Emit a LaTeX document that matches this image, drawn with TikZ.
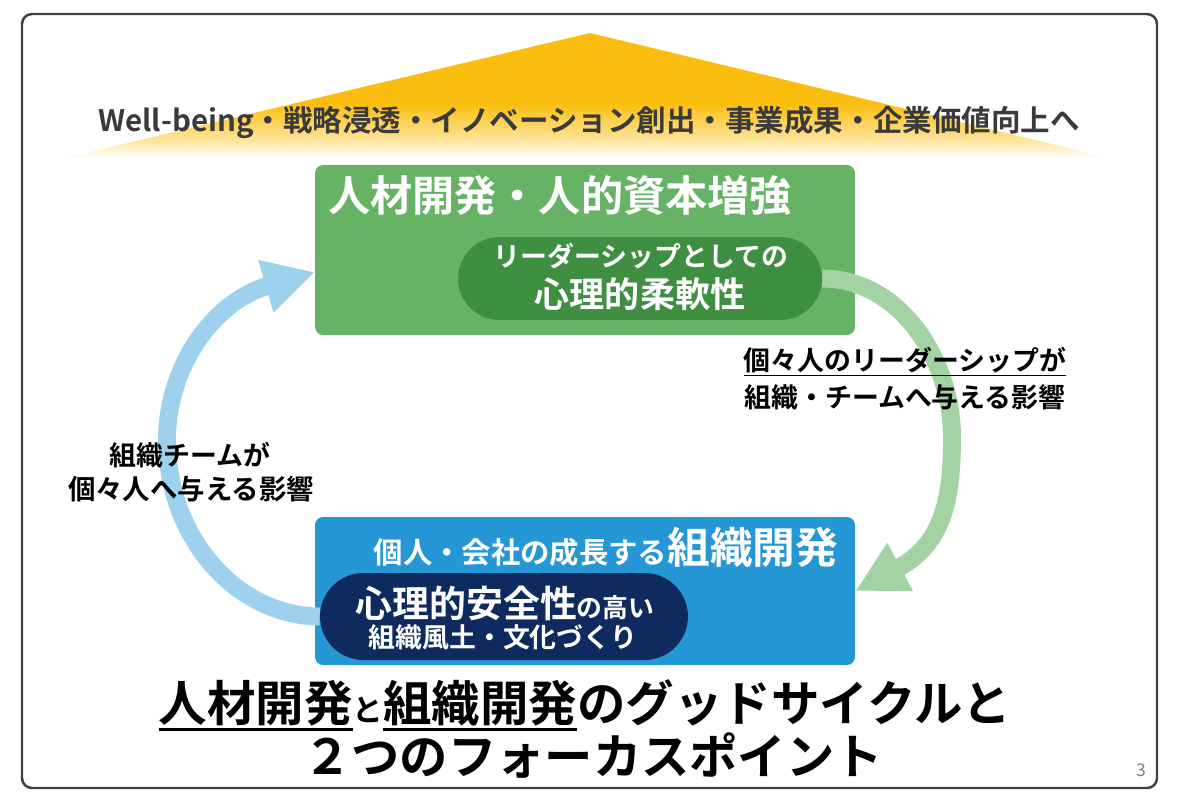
\documentclass[tikz,border=0pt]{standalone}
\usepackage{fontspec}
\setmainfont{Noto Sans CJK JP}[BoldFont={Noto Sans CJK JP Bold}]
\usetikzlibrary{arrows.meta}

\definecolor{roofyellow}{HTML}{FBBE0E}
\definecolor{roofgray}{HTML}{3A3A3A}
\definecolor{hrgreen}{HTML}{66B366}
\definecolor{hrdark}{HTML}{3F8F42}
\definecolor{hrarrow}{HTML}{A3D3A3}
\definecolor{odblue}{HTML}{2597D4}
\definecolor{odnavy}{HTML}{0F2A5F}
\definecolor{odarrow}{HTML}{9DD1EE}
\definecolor{framegray}{HTML}{404040}

\pgfdeclareverticalshading{roofshade}{100bp}{color(0bp)=(white); color(25bp)=(white);
  color(32bp)=(roofyellow!40); color(47bp)=(roofyellow); color(100bp)=(roofyellow)}

% underline with a bar of given thickness
\newcommand{\ulbar}[2]{\setbox0=\hbox{#2}\rlap{\rule[-0.2em]{\wd0}{#1}}\box0}

\tikzset{
  box/.style={rounded corners=0.16cm, inner sep=0pt},
  pill/.style={rounded corners=#1, inner sep=0pt},
  txt/.style={inner sep=0pt, font=\bfseries},
  flow/.style={line width=10.2pt, -{Triangle[length=29pt,width=29pt]}},
}

\begin{document}
\begin{tikzpicture}[x=0.02cm, y=0.02cm]
  \useasboundingbox (0,0) rectangle (1179,-806);
  % frame
  \draw[framegray, line width=1.4pt, rounded corners=0.2cm] (22,-14) rectangle (1157,-788);

  % roof
  \shade[shading=roofshade] (65,-158) -- (590,-33) -- (1110,-158) -- cycle;
  \node[txt, text=roofgray, font=\bfseries\fontsize{16.8pt}{20pt}\selectfont] (rooftxt) at (589,-122)
    {Well-being・戦略浸透・イノベーション創出・事業成果・企業価値向上へ};

  % human resource development
  \node[box, fill=hrgreen, minimum width=10.8cm, minimum height=3.4cm] (hbox) at (585,-250) {};
  \node[txt, text=white, font=\bfseries\fontsize{24pt}{28pt}\selectfont] (htitle) at (560,-195)
    {人材開発・人的資本増強};
  \node[pill=0.83cm, fill=hrdark, minimum width=7.28cm, minimum height=1.66cm] (lpill) at (640,-278.5) {};
  \node[txt, text=white, font=\bfseries\fontsize{15.3pt}{18pt}\selectfont] (lp1) at (641,-256)
    {リーダーシップとしての};
  \node[txt, text=white, font=\bfseries\fontsize{20pt}{24pt}\selectfont] (lp2) at (640,-294)
    {心理的柔軟性};

  % organization development
  \node[box, fill=odblue, minimum width=10.8cm, minimum height=2.96cm] (obox) at (585,-591) {};
  \node[txt, text=white] (otitle) at (606,-547)
    {{\fontsize{16.7pt}{20pt}\selectfont 個人・会社の成長する}{\fontsize{24.3pt}{28pt}\selectfont 組織開発}};
  \node[pill=0.87cm, fill=odnavy, minimum width=7.36cm, minimum height=1.74cm] (npill) at (504,-616.5) {};
  \node[txt, text=white] (np1) at (505,-603)
    {{\fontsize{21pt}{25pt}\selectfont 心理的安全性}{\fontsize{14.7pt}{18pt}\selectfont の高い}};
  \node[txt, text=white, font=\bfseries\fontsize{15.3pt}{18pt}\selectfont] (np2) at (503,-637)
    {組織風土・文化づくり};

  % cycle
  \coordinate (bluetip) at ([yshift=-0.44cm]hbox.west);
  \draw[flow, hrarrow] (lpill.east) .. controls (900,-279) and (952,-360) .. (952,-437)
    .. controls (952,-495) and (945,-543) .. (obox.east);
  \draw[flow, odarrow] (npill.west) .. controls (236,-616) and (167,-537) .. (167,-440)
    .. controls (167,-368) and (212,-302) .. (bluetip);

  % labels
  \node[txt, font=\bfseries\fontsize{15.3pt}{18pt}\selectfont] (rlab1) at (905,-362)
    {\ulbar{0.8pt}{個々人のリーダーシップが}};
  \node[txt, font=\bfseries\fontsize{15.3pt}{18pt}\selectfont] (rlab2) at (905,-397)
    {組織・チームへ与える影響};
  \node[txt, font=\bfseries\fontsize{15.3pt}{18pt}\selectfont] (llab1) at (190,-455)
    {組織チームが};
  \node[txt, font=\bfseries\fontsize{15.6pt}{18pt}\selectfont] (llab2) at (191,-489)
    {個々人へ与える影響};

  % title
  \node[txt, font=\bfseries\fontsize{27.6pt}{31pt}\selectfont] (tt1) at (585,-705)
    {\ulbar{1.7pt}{人材開発}{\fontsize{17.5pt}{20pt}\selectfont と}\ulbar{1.7pt}{組織開発}のグッドサイクルと};
  \node[txt, font=\bfseries\fontsize{27.5pt}{31pt}\selectfont] (tt2) at (593,-755)
    {２つのフォーカスポイント};
  \node[inner sep=0pt, text=gray, font=\fontsize{10pt}{12pt}\selectfont] (pgno) at (1141,-770) {3};
\end{tikzpicture}
\end{document}
